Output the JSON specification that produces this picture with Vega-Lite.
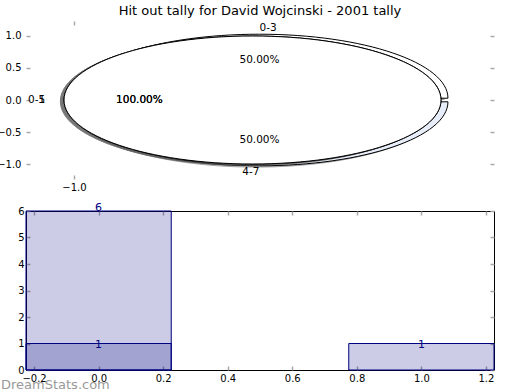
{
  "$schema": "https://vega.github.io/schema/vega-lite/v6.json",
  "padding": {"left": -4, "top": 5, "right": 5, "bottom": 0},
  "bounds": "flush",
  "spacing": 32,
  "config": {
    "font": "DejaVu Sans",
    "axis": {"grid": false, "domain": false, "tickColor": "#a8a8a8", "tickWidth": 1.5, "tickSize": -4, "labelFontSize": 10, "labelColor": "black"}
  },
  "datasets": {
    "wedges": [
      {"pie": "A", "wedge": "0-3", "share": 0.5, "start": 0, "cx": 0.039, "cy": 0.028},
      {"pie": "A", "wedge": "4-7", "share": 0.5, "start": 0.5, "cx": 0.039, "cy": -0.028},
      {"pie": "B", "wedge": "0-5", "share": 1, "start": 0, "cx": 0, "cy": 0},
      {"pie": "C", "wedge": "1", "share": 1, "start": 0, "cx": 0, "cy": 0}
    ],
    "bars": [
      {"series": "A", "x": 0, "v": 6},
      {"series": "A", "x": 1, "v": 1},
      {"series": "B", "x": 0, "v": 1}
    ]
  },
  "vconcat": [
    {
      "width": 468,
      "height": 158,
      "view": {"stroke": null},
      "title": {"text": "Hit out tally for David Wojcinski - 2001 tally", "frame": "group", "anchor": "middle", "fontSize": 13, "fontWeight": "normal", "baseline": "alphabetic", "offset": -8, "color": "black"},
      "data": {"name": "wedges"},
      "transform": [
        {"calculate": "2*PI*(datum.start + datum.share/2)", "as": "mid"},
        {"calculate": "datum.cx + 1.1*cos(datum.mid)*1.056", "as": "lx"},
        {"calculate": "datum.cy + 1.1*sin(datum.mid)", "as": "ly"},
        {"calculate": "datum.cx + 0.6*cos(datum.mid)*1.056", "as": "px"},
        {"calculate": "datum.cy + 0.6*sin(datum.mid)", "as": "py"},
        {"calculate": "format(datum.share*100, '.2f') + '%'", "as": "pct"}
      ],
      "layer": [
        {
          "transform": [{"filter": "datum.pie == 'A'"}],
          "mark": {"type": "point", "filled": true, "color": "#4d4d4d", "stroke": "#4d4d4d", "strokeWidth": 1, "opacity": 0.5, "xOffset": -3.6, "yOffset": 1.3},
          "encoding": {
            "x": {"field": "cx", "type": "quantitative", "title": null, "scale": {"domain": [-1.269, 1.353], "nice": false, "zero": false}, "axis": {"orient": "bottom", "values": [-1], "format": ".1f", "labelPadding": 7}},
            "y": {"field": "cy", "type": "quantitative", "title": null, "scale": {"domain": [-1.234, 1.234], "nice": false, "zero": false}, "axis": {"orient": "left", "values": [-1, -0.5, 0, 0.5, 1], "format": ".1f", "labelPadding": 9}},
            "shape": {"field": "wedge", "type": "nominal", "legend": null, "scale": {"domain": ["0-3", "4-7", "0-5", "1"], "range": ["M0,0L1,0C1,-0.1875,0.5523,-0.3395,0,-0.3395C-0.5523,-0.3395,-1,-0.1875,-1,0Z", "M0,0L-1,0C-1,0.1875,-0.5523,0.3395,0,0.3395C0.5523,0.3395,1,0.1875,1,0Z", "M1,0C1,-0.1875,0.5523,-0.3395,0,-0.3395C-0.5523,-0.3395,-1,-0.1875,-1,0C-1,0.1875,-0.5523,0.3395,0,0.3395C0.5523,0.3395,1,0.1875,1,0Z", "M1,0C1,-0.1875,0.5523,-0.3395,0,-0.3395C-0.5523,-0.3395,-1,-0.1875,-1,0C-1,0.1875,-0.5523,0.3395,0,0.3395C0.5523,0.3395,1,0.1875,1,0Z"]}},
            "size": {"value": 142129}
          }
        },
        {
          "transform": [{"filter": "datum.pie == 'A'"}],
          "mark": {"type": "point", "filled": true, "stroke": "black", "strokeWidth": 1, "opacity": 1},
          "encoding": {
            "x": {"field": "cx", "type": "quantitative", "title": null, "axis": {"orient": "top", "values": [-1], "labels": false, "minExtent": 0, "maxExtent": 0}},
            "y": {"field": "cy", "type": "quantitative", "title": null, "axis": {"orient": "right", "values": [-1, -0.5, 0, 0.5, 1], "labels": false, "minExtent": 0, "maxExtent": 0}},
            "shape": {"field": "wedge", "type": "nominal", "legend": null},
            "fill": {"field": "wedge", "type": "nominal", "legend": null, "scale": {"domain": ["0-3", "4-7", "0-5", "1"], "range": ["#ffffff", "#e8eef9", "#ffffff", "#ffffff"]}},
            "size": {"value": 142129}
          }
        },
        {
          "transform": [{"filter": "datum.pie != 'A'"}],
          "mark": {"type": "point", "filled": true, "color": "#4d4d4d", "stroke": "#4d4d4d", "strokeWidth": 1, "opacity": 0.5, "xOffset": -3.6, "yOffset": 1.3},
          "encoding": {
            "x": {"field": "cx", "type": "quantitative", "axis": null},
            "y": {"field": "cy", "type": "quantitative", "axis": null},
            "shape": {"field": "wedge", "type": "nominal", "legend": null},
            "size": {"value": 142129}
          }
        },
        {
          "transform": [{"filter": "datum.pie != 'A'"}],
          "mark": {"type": "point", "filled": true, "stroke": "black", "strokeWidth": 1, "opacity": 1},
          "encoding": {
            "x": {"field": "cx", "type": "quantitative", "axis": null},
            "y": {"field": "cy", "type": "quantitative", "axis": null},
            "shape": {"field": "wedge", "type": "nominal", "legend": null},
            "fill": {"field": "wedge", "type": "nominal", "legend": null},
            "size": {"value": 142129}
          }
        },
        {
          "transform": [{"filter": "cos(datum.mid) > 0"}],
          "mark": {"type": "text", "align": "left", "baseline": "middle", "fontSize": 10.5, "color": "black"},
          "encoding": {
            "x": {"field": "lx", "type": "quantitative", "axis": null},
            "y": {"field": "ly", "type": "quantitative", "axis": null},
            "text": {"field": "wedge"}
          }
        },
        {
          "transform": [{"filter": "cos(datum.mid) <= 0"}],
          "mark": {"type": "text", "align": "right", "baseline": "middle", "fontSize": 10.5, "color": "black"},
          "encoding": {
            "x": {"field": "lx", "type": "quantitative", "axis": null},
            "y": {"field": "ly", "type": "quantitative", "axis": null},
            "text": {"field": "wedge"}
          }
        },
        {
          "mark": {"type": "text", "align": "center", "baseline": "middle", "fontSize": 10.5, "color": "black"},
          "encoding": {
            "x": {"field": "px", "type": "quantitative", "axis": null},
            "y": {"field": "py", "type": "quantitative", "axis": null},
            "text": {"field": "pct"}
          }
        }
      ],
      "resolve": {"axis": {"x": "independent", "y": "independent"}}
    },
    {
      "width": 468,
      "height": 159,
      "view": {"stroke": "black", "strokeWidth": 1},
      "title": {"text": "DreamStats.com", "orient": "bottom", "anchor": "start", "frame": "group", "dx": -25, "offset": 5, "fontSize": 13, "fontWeight": "normal", "color": "#999999", "baseline": "alphabetic"},
      "data": {"name": "bars"},
      "transform": [
        {"calculate": "datum.x - 0.225", "as": "x0"},
        {"calculate": "datum.x + 0.225", "as": "x1"}
      ],
      "layer": [
        {
          "mark": {"type": "bar", "fill": "#000080", "fillOpacity": 0.2, "stroke": "#000080", "strokeWidth": 1},
          "encoding": {
            "x": {"field": "x0", "type": "quantitative", "title": null, "scale": {"domain": [-0.225, 1.225], "nice": false, "zero": false}, "axis": {"orient": "bottom", "values": [-0.2, 0, 0.2, 0.4, 0.6, 0.8, 1, 1.2], "format": ".1f", "labelPadding": 7.5}},
            "x2": {"field": "x1"},
            "y": {"field": "v", "type": "quantitative", "title": null, "scale": {"domain": [0, 6], "nice": false}, "axis": {"orient": "left", "values": [0, 1, 2, 3, 4, 5, 6], "format": "d", "labelPadding": 6}},
            "y2": {"datum": 0}
          }
        },
        {
          "transform": [{"filter": "datum.v > 1"}],
          "mark": {"type": "text", "align": "center", "baseline": "alphabetic", "fontSize": 11, "color": "#000080"},
          "encoding": {
            "x": {"field": "x", "type": "quantitative", "title": null, "axis": {"orient": "top", "values": [-0.2, 0, 0.2, 0.4, 0.6, 0.8, 1, 1.2], "labels": false, "minExtent": 0, "maxExtent": 0}},
            "y": {"field": "v", "type": "quantitative", "title": null, "axis": {"orient": "right", "values": [0, 1, 2, 3, 4, 5, 6], "labels": false, "minExtent": 0, "maxExtent": 0}},
            "text": {"field": "v"}
          }
        },
        {
          "transform": [{"filter": "datum.v <= 1"}],
          "mark": {"type": "text", "align": "center", "baseline": "alphabetic", "dy": 4, "fontSize": 11, "color": "#000080"},
          "encoding": {
            "x": {"field": "x", "type": "quantitative", "axis": null},
            "y": {"field": "v", "type": "quantitative", "axis": null},
            "text": {"field": "v"}
          }
        }
      ],
      "resolve": {"axis": {"x": "independent", "y": "independent"}}
    }
  ]
}
